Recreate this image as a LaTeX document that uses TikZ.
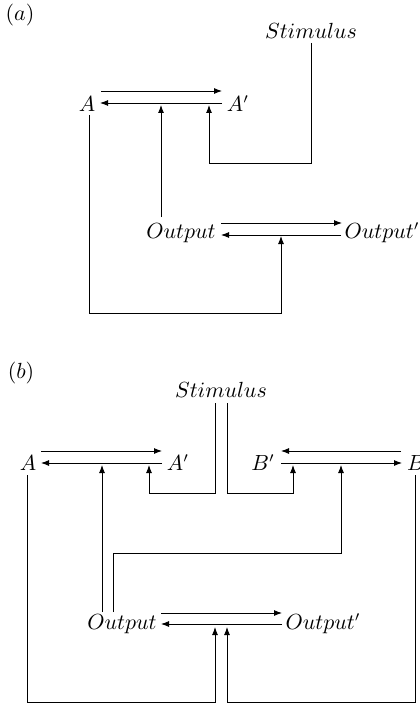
\documentclass[tikz,border=0pt]{standalone}
\usetikzlibrary{arrows.meta}
\begin{document}
\begin{tikzpicture}[x=0.5pt,y=-0.5pt,
  lbl/.style={inner sep=0pt,font=\fontsize{10.5}{12}\selectfont},
  arr/.style={-{Latex[length=4pt,width=3pt]}},
  ln/.style={line width=0.45pt}]
\useasboundingbox (0,0) rectangle (419,706);
% ---------------- (a)
\node[lbl] (la) at (20,15) {$(a)$};
\node[lbl] (Sa) at (311,31) {$Stimulus$};
\node[lbl] (Aa) at (87,104) {$A$};
\node[lbl] (Apa) at (238,104) {$A'$};
\node[lbl] (Oa) at (181,233) {$Output$};
\node[lbl] (Opa) at (382,233) {$Output'$};
\coordinate (a1) at (101,91);  \coordinate (a2) at (222,91);
\coordinate (a3) at (222,103); \coordinate (a4) at (100,103);
\coordinate (a5) at (311,43);  \coordinate (a6) at (209,105);
\coordinate (a7) at (161,217); \coordinate (a8) at (161,105);
\coordinate (a9) at (89,115);  \coordinate (a10) at (281,236);
\coordinate (a11) at (221,223); \coordinate (a12) at (342,223);
\coordinate (a13) at (341,235); \coordinate (a14) at (221,235);
\draw[ln,arr] (a1) -- (a2);
\draw[ln,arr] (a3) -- (a4);
\draw[ln,arr] (a5) -- (311,163) -- (209,163) -- (a6);
\draw[ln,arr] (a7) -- (a8);
\draw[ln,arr] (a9) -- (89,313) -- (281,313) -- (a10);
\draw[ln,arr] (a11) -- (a12);
\draw[ln,arr] (a13) -- (a14);
% ---------------- (b)
\node[lbl] (lb) at (21,373) {$(b)$};
\node[lbl] (Sb) at (221,390) {$Stimulus$};
\node[lbl] (Ab) at (28,463) {$A$};
\node[lbl] (Apb) at (178,463) {$A'$};
\node[lbl] (Bpb) at (263,463) {$B'$};
\node[lbl] (Bb) at (416,463) {$B$};
\node[lbl] (Ob) at (122,624) {$Output$};
\node[lbl] (Opb) at (323,624) {$Output'$};
\coordinate (b1) at (41,451);  \coordinate (b2) at (162,451);
\coordinate (b3) at (162,463); \coordinate (b4) at (41,463);
\coordinate (b5) at (401,451); \coordinate (b6) at (281,451);
\coordinate (b7) at (281,463); \coordinate (b8) at (402,463);
\coordinate (b9) at (215,403); \coordinate (b10) at (149,465);
\coordinate (b11) at (227,403); \coordinate (b12) at (293,465);
\coordinate (b13) at (102,612); \coordinate (b14) at (102,465);
\coordinate (b15) at (113,612); \coordinate (b16) at (341,465);
\coordinate (b17) at (161,613); \coordinate (b18) at (282,613);
\coordinate (b19) at (282,624); \coordinate (b20) at (161,624);
\coordinate (b21) at (27,475);  \coordinate (b22) at (215,627);
\coordinate (b23) at (415,475); \coordinate (b24) at (227,627);
\draw[ln,arr] (b1) -- (b2);
\draw[ln,arr] (b3) -- (b4);
\draw[ln,arr] (b5) -- (b6);
\draw[ln,arr] (b7) -- (b8);
\draw[ln,arr] (b9) -- (215,493) -- (149,493) -- (b10);
\draw[ln,arr] (b11) -- (227,493) -- (293,493) -- (b12);
\draw[ln,arr] (b13) -- (b14);
\draw[ln,arr] (b15) -- (113,553) -- (341,553) -- (b16);
\draw[ln,arr] (b17) -- (b18);
\draw[ln,arr] (b19) -- (b20);
\draw[ln,arr] (b21) -- (27,702) -- (215,702) -- (b22);
\draw[ln,arr] (b23) -- (415,702) -- (227,702) -- (b24);
\end{tikzpicture}
\end{document}
